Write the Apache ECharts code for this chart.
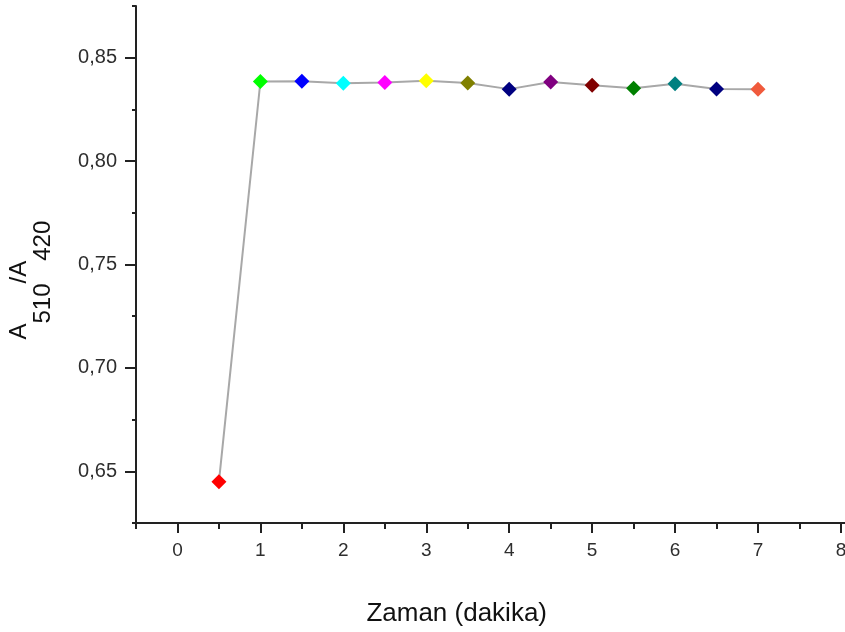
<!DOCTYPE html>
<html>
<head>
<meta charset="utf-8">
<script src="https://cdn.jsdelivr.net/npm/echarts@6/dist/echarts.min.js"></script>
<style>
html,body{margin:0;padding:0;background:#fff;}
#chart{width:845px;height:632px;}
</style>
</head>
<body>
<div id="chart"></div>
<script>
// Data
var timeMinutes = [0.5, 1, 1.5, 2, 2.5, 3, 3.5, 4, 4.5, 5, 5.5, 6, 6.5, 7];
var ratioValues = [0.645, 0.8385, 0.8386, 0.8377, 0.8380, 0.8388, 0.8378, 0.8348, 0.8383, 0.8367, 0.8352, 0.8374, 0.8349, 0.8347];
var pointColors = ['#ff0000', '#00ff00', '#0000ff', '#00ffff', '#ff00ff', '#ffff00', '#808000', '#000080',
                   '#800080', '#800000', '#008000', '#008080', '#000080', '#f05a3c'];
var xLabelValues = [0, 1, 2, 3, 4, 5, 6, 7, 8];
var yLabelValues = [0.65, 0.70, 0.75, 0.80, 0.85];

var seriesData = timeMinutes.map(function (t, i) {
  return { value: [t, ratioValues[i]], itemStyle: { color: pointColors[i] } };
});

var chart = echarts.init(document.getElementById('chart'), null, { renderer: 'canvas' });
var fontFam = '"Liberation Sans", Arial, sans-serif';
var axisColor = '#222';

function pickLabel(list, v, fmt) {
  for (var i = 0; i < list.length; i++) {
    if (Math.abs(v - list[i]) < 1e-6) return fmt(list[i]);
  }
  return '';
}

chart.setOption({
  animation: false,
  backgroundColor: '#ffffff',
  grid: { left: 136, top: 6, width: 746.4, height: 517, containLabel: false, outerBoundsMode: 'none' },
  xAxis: [{
    // axis line + ticks: short ticks at half-units, long (minor) ticks at integers
    type: 'value',
    min: -0.5, max: 8.5, interval: 1,
    name: 'Zaman (dakika)',
    nameLocation: 'middle',
    nameGap: 78,
    nameTextStyle: { fontFamily: fontFam, fontSize: 26, color: '#111', padding: [0, 105, 0, 0] },
    axisLine: { onZero: false, lineStyle: { color: axisColor, width: 2 } },
    axisTick: { show: true, inside: false, length: 6, lineStyle: { color: axisColor, width: 2 } },
    minorTick: { show: true, splitNumber: 2, length: 10, lineStyle: { color: axisColor, width: 2 } },
    axisLabel: { show: false },
    splitLine: { show: false },
    minorSplitLine: { show: false }
  }, {
    // labels only
    type: 'value',
    position: 'bottom',
    min: -0.5, max: 8.5, interval: 0.5,
    axisLine: { show: false },
    axisTick: { show: false },
    axisLabel: {
      fontFamily: fontFam, fontSize: 19, color: '#2e2e2e', margin: 18,
      formatter: function (v) { return pickLabel(xLabelValues, v, function (x) { return String(x); }); }
    },
    splitLine: { show: false }
  }],
  yAxis: [{
    type: 'value',
    min: 0.625, max: 0.875, interval: 0.05,
    name: '{a|A}{s|510}{a|/A}{s|420}{h|\u00a0}',
    nameLocation: 'middle',
    nameGap: 81,
    nameTextStyle: {
      fontFamily: fontFam, fontSize: 24, color: '#111', padding: [0, 31, 0, 0],
      rich: {
        a: { fontFamily: fontFam, fontSize: 24, color: '#111', lineHeight: 26, verticalAlign: 'top' },
        s: { fontFamily: fontFam, fontSize: 24, color: '#111', lineHeight: 26, verticalAlign: 'bottom' },
        h: { fontSize: 1, lineHeight: 48 }
      }
    },
    axisLine: { onZero: false, lineStyle: { color: axisColor, width: 2 } },
    axisTick: { show: true, inside: false, length: 4, lineStyle: { color: axisColor, width: 2 } },
    minorTick: { show: true, splitNumber: 2, length: 11, lineStyle: { color: axisColor, width: 2 } },
    axisLabel: { show: false },
    splitLine: { show: false },
    minorSplitLine: { show: false }
  }, {
    type: 'value',
    position: 'left',
    min: 0.625, max: 0.875, interval: 0.025,
    axisLine: { show: false },
    axisTick: { show: false },
    axisLabel: {
      fontFamily: fontFam, fontSize: 20, color: '#2e2e2e', margin: 19,
      formatter: function (v) { return pickLabel(yLabelValues, v, function (y) { return y.toFixed(2).replace('.', ','); }); }
    },
    splitLine: { show: false }
  }],
  series: [{
    type: 'line',
    xAxisIndex: 0,
    yAxisIndex: 0,
    data: seriesData,
    symbol: 'diamond',
    symbolSize: 15,
    showSymbol: true,
    lineStyle: { color: '#a8a8a8', width: 2 },
    z: 3
  }]
});
</script>
</body>
</html>
